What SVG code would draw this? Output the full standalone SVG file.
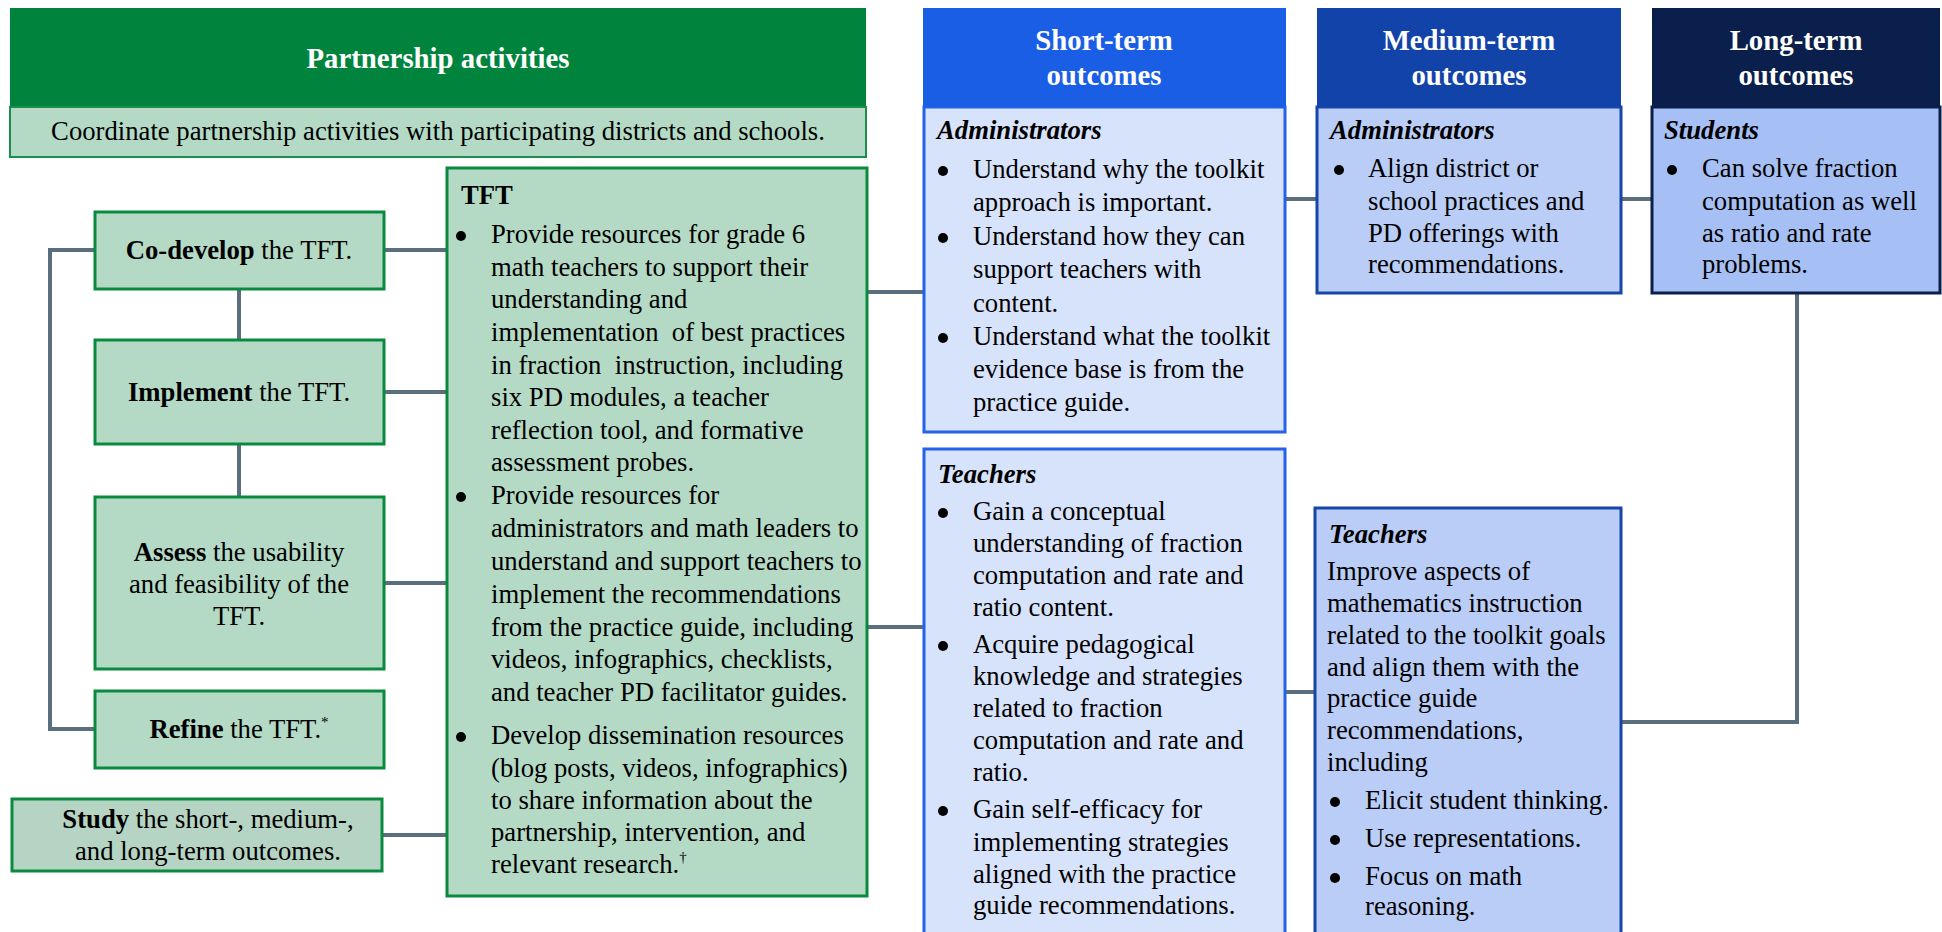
<svg xmlns="http://www.w3.org/2000/svg" width="1942" height="932" viewBox="0 0 1942 932">
<style>
text{font-family:"Liberation Serif","Times New Roman",serif;font-size:26.7px;fill:#000}
.h{font-weight:bold;font-size:28.8px;fill:#fff;text-anchor:middle}
.c{text-anchor:middle}
.b{font-weight:bold}
.bi{font-weight:bold;font-style:italic}
.dot{fill:#000}
.sup{font-size:15px}
.conn{stroke:#5B6E7D;stroke-width:4;fill:none}
.gbox{fill:#B4DAC6;stroke:#0A8A3E;stroke-width:3}
.sbox{fill:#D7E3FA;stroke:#2462EA;stroke-width:3}
.mbox{fill:#B9CDF6;stroke:#1746A8;stroke-width:3}
.lbox{fill:#A6BFF4;stroke:#0B1F4B;stroke-width:3}
</style>
<g id="connectors">
<path class="conn" d="M95,250 H50 V729 H95"/>
<path class="conn" d="M239,289 V340 M239,444 V497"/>
<path class="conn" d="M384,250 H447 M384,392 H447 M384,583 H447 M382,835 H447"/>
<path class="conn" d="M867,292 H924 M867,627 H924"/>
<path class="conn" d="M1285,199 H1317 M1620,199 H1652"/>
<path class="conn" d="M1285,692 H1315"/>
<path class="conn" d="M1621,722 H1797 V293"/>
</g>
<g id="partnership-header">
<rect x="10" y="8" width="856" height="99" fill="#00843D"/>
<text class="h" x="438" y="68">Partnership activities</text>
</g>
<g id="coordinate">
<rect x="10" y="107" width="856" height="50" fill="#B4DAC6" stroke="#1A8F4C" stroke-width="2"/>
<text class="c" x="438" y="140">Coordinate partnership activities with participating districts and schools.</text>
</g>
<g id="codevelop">
<rect class="gbox" x="95" y="212" width="289" height="77"/>
<text class="c" x="239" y="259"><tspan class="b">Co-develop</tspan> the TFT.</text>
</g>
<g id="implement">
<rect class="gbox" x="95" y="340" width="289" height="104"/>
<text class="c" x="239" y="401"><tspan class="b">Implement</tspan> the TFT.</text>
</g>
<g id="assess">
<rect class="gbox" x="95" y="497" width="289" height="172"/>
<text class="c" x="239" y="561"><tspan class="b">Assess</tspan> the usability</text>
<text class="c" x="239" y="593">and feasibility of the</text>
<text class="c" x="239" y="625">TFT.</text>
</g>
<g id="refine">
<rect class="gbox" x="95" y="691" width="289" height="77"/>
<text class="c" x="239" y="738"><tspan class="b">Refine</tspan> the TFT.<tspan class="sup" dy="-11">*</tspan></text>
</g>
<g id="study">
<rect x="12" y="799" width="370" height="72" fill="#B6D4C4" stroke="#0A8A3E" stroke-width="3"/>
<text class="c" x="208" y="828"><tspan class="b">Study</tspan> the short-, medium-,</text>
<text class="c" x="208" y="860">and long-term outcomes.</text>
</g>
<g id="tft">
<rect class="gbox" x="447" y="168" width="420" height="728"/>
<text class="b" x="461" y="204">TFT</text>
<circle class="dot" cx="461" cy="236" r="5"/>
<text x="491" y="243">Provide resources for grade 6</text>
<text x="491" y="276">math teachers to support their</text>
<text x="491" y="308">understanding and</text>
<text x="491" y="341" xml:space="preserve">implementation  of best practices</text>
<text x="491" y="374" xml:space="preserve">in fraction  instruction, including</text>
<text x="491" y="406">six PD modules, a teacher</text>
<text x="491" y="439">reflection tool, and formative</text>
<text x="491" y="471">assessment probes.</text>
<circle class="dot" cx="461" cy="497" r="5"/>
<text x="491" y="504">Provide resources for</text>
<text x="491" y="537">administrators and math leaders to</text>
<text x="491" y="570">understand and support teachers to</text>
<text x="491" y="603">implement the recommendations</text>
<text x="491" y="636">from the practice guide, including</text>
<text x="491" y="668">videos, infographics, checklists,</text>
<text x="491" y="701">and teacher PD facilitator guides.</text>
<circle class="dot" cx="461" cy="737" r="5"/>
<text x="491" y="744">Develop dissemination resources</text>
<text x="491" y="777">(blog posts, videos, infographics)</text>
<text x="491" y="809">to share information about the</text>
<text x="491" y="841">partnership, intervention, and</text>
<text x="491" y="873">relevant research.<tspan class="sup" dy="-11">†</tspan></text>
</g>
<g id="short-admin">
<rect class="sbox" x="924" y="107" width="361" height="325"/>
<rect x="923" y="8" width="363" height="99" fill="#1B5EE6"/>
<text class="h" x="1104" y="50">Short-term</text>
<text class="h" x="1104" y="85">outcomes</text>
<text class="bi" x="937" y="139">Administrators</text>
<circle class="dot" cx="943" cy="171" r="5"/>
<text x="973" y="178">Understand why the toolkit</text>
<text x="973" y="211">approach is important.</text>
<circle class="dot" cx="943" cy="238" r="5"/>
<text x="973" y="245">Understand how they can</text>
<text x="973" y="278">support teachers with</text>
<text x="973" y="312">content.</text>
<circle class="dot" cx="943" cy="338" r="5"/>
<text x="973" y="345">Understand what the toolkit</text>
<text x="973" y="378">evidence base is from the</text>
<text x="973" y="411">practice guide.</text>
</g>
<g id="short-teachers">
<rect class="sbox" x="924" y="449" width="361" height="500"/>
<text class="bi" x="938" y="483">Teachers</text>
<circle class="dot" cx="943" cy="513" r="5"/>
<text x="973" y="520">Gain a conceptual</text>
<text x="973" y="552">understanding of fraction</text>
<text x="973" y="584">computation and rate and</text>
<text x="973" y="616">ratio content.</text>
<circle class="dot" cx="943" cy="646" r="5"/>
<text x="973" y="653">Acquire pedagogical</text>
<text x="973" y="685">knowledge and strategies</text>
<text x="973" y="717">related to fraction</text>
<text x="973" y="749">computation and rate and</text>
<text x="973" y="781">ratio.</text>
<circle class="dot" cx="943" cy="811" r="5"/>
<text x="973" y="818">Gain self-efficacy for</text>
<text x="973" y="851">implementing strategies</text>
<text x="973" y="883">aligned with the practice</text>
<text x="973" y="914">guide recommendations.</text>
</g>
<g id="medium-admin">
<rect class="mbox" x="1317" y="107" width="304" height="186"/>
<rect x="1317" y="8" width="304" height="99" fill="#1243A8"/>
<text class="h" x="1469" y="50">Medium-term</text>
<text class="h" x="1469" y="85">outcomes</text>
<text class="bi" x="1330" y="139">Administrators</text>
<circle class="dot" cx="1339" cy="170" r="5"/>
<text x="1368" y="177">Align district or</text>
<text x="1368" y="210">school practices and</text>
<text x="1368" y="242">PD offerings with</text>
<text x="1368" y="273">recommendations.</text>
</g>
<g id="long-students">
<rect class="lbox" x="1652" y="107" width="288" height="186"/>
<rect x="1652" y="8" width="288" height="99" fill="#0B1F4C"/>
<text class="h" x="1796" y="50">Long-term</text>
<text class="h" x="1796" y="85">outcomes</text>
<text class="bi" x="1664" y="139">Students</text>
<circle class="dot" cx="1672" cy="170" r="5"/>
<text x="1702" y="177">Can solve fraction</text>
<text x="1702" y="210">computation as well</text>
<text x="1702" y="242">as ratio and rate</text>
<text x="1702" y="273">problems.</text>
</g>
<g id="medium-teachers">
<rect class="mbox" x="1315" y="508" width="306" height="440"/>
<text class="bi" x="1329" y="543">Teachers</text>
<text x="1327" y="580">Improve aspects of</text>
<text x="1327" y="612">mathematics instruction</text>
<text x="1327" y="644">related to the toolkit goals</text>
<text x="1327" y="676">and align them with the</text>
<text x="1327" y="707">practice guide</text>
<text x="1327" y="739">recommendations,</text>
<text x="1327" y="771">including</text>
<circle class="dot" cx="1335" cy="802" r="5"/>
<text x="1365" y="809">Elicit student thinking.</text>
<circle class="dot" cx="1335" cy="840" r="5"/>
<text x="1365" y="847">Use representations.</text>
<circle class="dot" cx="1335" cy="878" r="5"/>
<text x="1365" y="885">Focus on math</text>
<text x="1365" y="915">reasoning.</text>
</g>
</svg>
